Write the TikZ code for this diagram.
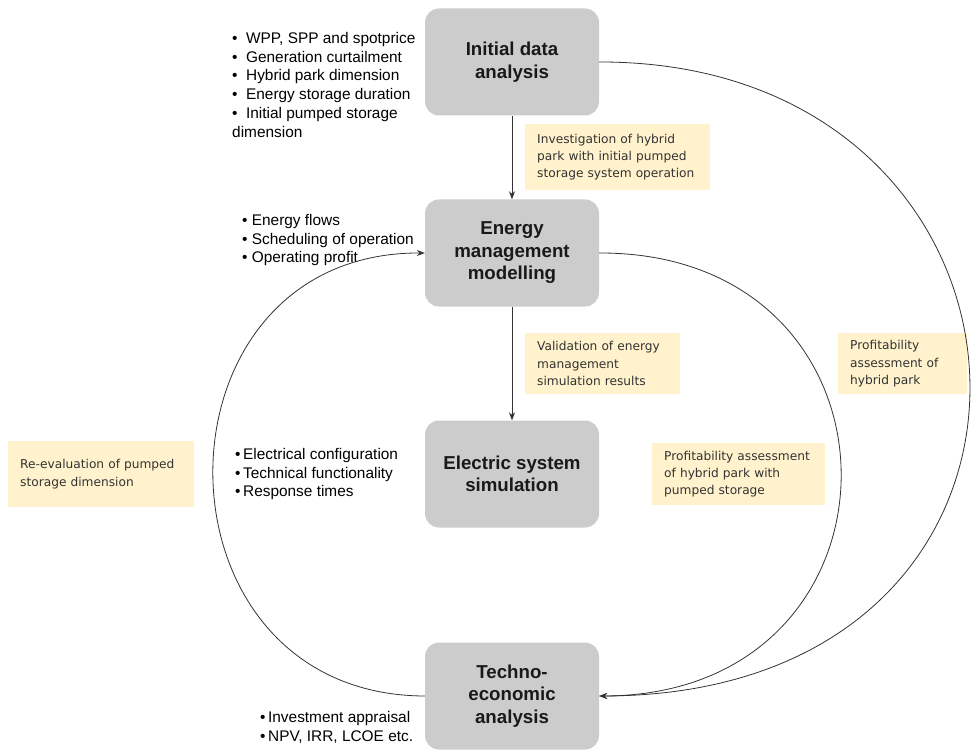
\documentclass[tikz,border=0pt]{standalone}
\usepackage{fontspec}
\setmainfont{Liberation Sans}
\newfontfamily\notefont{DejaVu Sans}
\usepackage{tikz}
\usetikzlibrary{arrows.meta}

\definecolor{boxgray}{HTML}{CCCCCC}
\definecolor{notefill}{HTML}{FFF2CC}
\definecolor{notetext}{HTML}{333333}

\tikzset{
  stage/.style={rounded corners=14pt, fill=boxgray, minimum width=174pt, minimum height=107pt,
    align=center, inner sep=0pt, text=black!90, font=\fontsize{18.7}{22.5}\selectfont\bfseries},
  note/.style={fill=notefill, anchor=north west, inner xsep=12pt, inner ysep=0pt, align=left,
    text=notetext, font=\notefont\fontsize{12.2}{17.3}\selectfont},
  bullets/.style={anchor=north west, inner sep=0pt, align=left, font=\fontsize{15.4}{18.8}\selectfont},
  flow/.style={-{Stealth[length=8pt,width=6pt]}, line width=0.8pt, black!80},
}

\begin{document}
\begin{tikzpicture}[x=1pt,y=1pt,yscale=-1,xscale=1]
			\useasboundingbox (0,0) rectangle (974,751);
			
			%Shape: Stages
			\node [stage] (ida) at (512,62) {Initial data\\analysis};
			\node [stage] (emm) at (512,253) {Energy\\management\\modelling};
			\node [stage] (ess) at (512,474) {Electric system\\simulation};
			\node [stage] (tea) at (512,696) {Techno-\\economic\\analysis};
			
			% Text Node
			\node [bullets] (idalist) at (232,32) {\textbullet\ \ WPP, SPP and spotprice\\\textbullet\ \ Generation curtailment\\\textbullet\ \ Hybrid park dimension\\\textbullet\ \ Energy storage duration\\\textbullet\ \ Initial pumped storage\\dimension};
			% Text Node
			\node [bullets] (emmlist) at (242,214) {\textbullet\ Energy flows\\\textbullet\ Scheduling of operation\\\textbullet\ Operating profit};
			% Text Node
			\node [bullets] (esslist) at (235,448) {\textbullet\,Electrical configuration\\\textbullet\,Technical functionality\\\textbullet\,Response times};
			% Text Node
			\node [bullets] (tealist) at (260,711) {\textbullet\,Investment appraisal\\\textbullet\,NPV, IRR, LCOE etc.};
			
			%Shape: Notes
			\node [note, text width=161pt, minimum height=66pt] (inv) at (525,124) {Investigation of hybrid\\park with initial pumped\\storage system operation};
			\node [note, text width=131pt, minimum height=61pt] (val) at (525,333) {Validation of energy\\management\\simulation results};
			\node [note, text width=105pt, minimum height=61pt] (profhp) at (838,333) {Profitability\\assessment of\\hybrid park};
			\node [note, text width=149pt, minimum height=62pt] (profps) at (652,443) {Profitability assessment\\of hybrid park with\\pumped storage};
			\node [note, text width=162pt, minimum height=66pt] (reeval) at (8,441) {Re-evaluation of pumped\\storage dimension};
			
			%Straight Lines
			\draw [flow] (ida) -- (emm);
			\draw [flow] (emm) -- (ess);
			
			%Curve Lines
			\draw [flow] (ida.east) .. controls (1075,61) and (1110,695) .. (tea.east);
			\draw [flow] (emm.east) .. controls (921,252) and (921,695) .. (tea.east);
			\draw [flow] (tea.west) .. controls (143,695) and (143,252) .. (emm.west);
			
		\end{tikzpicture}
\end{document}
